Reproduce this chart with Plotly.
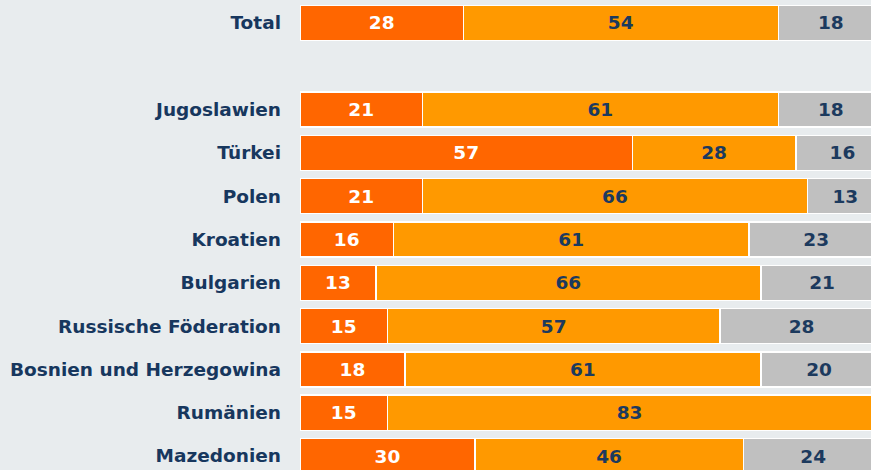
import plotly.graph_objects as go

categories = ["Total", " ", "Jugoslawien", "Türkei", "Polen", "Kroatien", "Bulgarien",
              "Russische Föderation", "Bosnien und Herzegowina", "Rumänien", "Mazedonien"]
series_a = [28, None, 21, 57, 21, 16, 13, 15, 18, 15, 30]
series_b = [54, None, 61, 28, 66, 61, 66, 57, 61, 83, 46]
series_c = [18, None, 18, 16, 13, 23, 21, 28, 20, 2, 24]
series_names = ["Anteil A", "Anteil B", "Anteil C"]

colors = ["#ff6600", "#ff9900", "#c0c0c0"]
text_colors = ["#ffffff", "#1c3a5e", "#1c3a5e"]
bg = "rgb(232,236,238)"
font_family = "DejaVu Sans"

fig = go.Figure()
for vals, name, col, tcol in zip([series_a, series_b, series_c], series_names, colors, text_colors):
    fig.add_trace(go.Bar(
        y=categories, x=vals, name=name, orientation="h",
        marker=dict(color=col, line=dict(color="white", width=1.5)),
        text=[("" if v is None else str(v)) for v in vals],
        textposition="inside", insidetextanchor="middle",
        textfont=dict(family=font_family, size=18.5, color=tcol, weight="bold"),
        showlegend=False, hoverinfo="skip",
    ))

fig.update_layout(
    barmode="stack", bargap=0.19,
    width=871, height=470,
    margin=dict(l=300, r=0, t=0, b=0, pad=0),
    paper_bgcolor=bg, plot_bgcolor=bg,
    uniformtext=dict(minsize=17, mode="hide"),
    font=dict(family=font_family),
)
fig.update_xaxes(range=[0, 97.9], showgrid=False, zeroline=False, showticklabels=False,
                 showline=False, fixedrange=True)
fig.update_yaxes(type="category", categoryorder="array", categoryarray=categories,
                 range=[10.323, -0.531], showgrid=False, zeroline=False, showline=False,
                 ticks="", ticklabelstandoff=18, fixedrange=True,
                 tickfont=dict(family=font_family, size=18.5, color="#17375e", weight="bold"))

fig.write_html("out.html", config={"displayModeBar": False},
               post_script="document.body.style.margin='0';document.body.style.background='rgb(232,236,238)';")
